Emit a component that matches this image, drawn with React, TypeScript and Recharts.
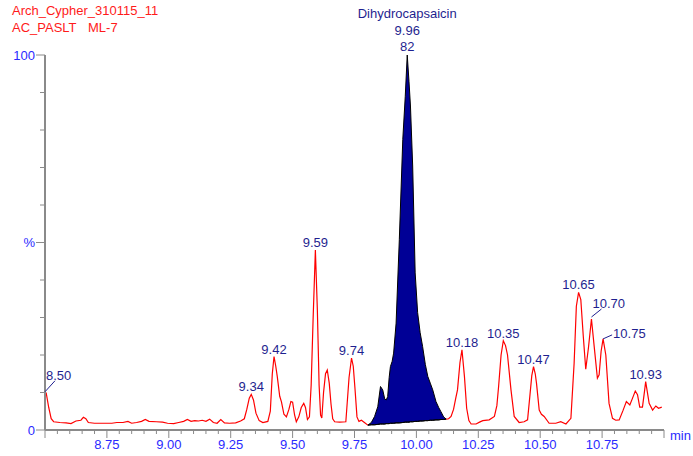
import React from 'react'
import { ComposedChart, Line, Area, XAxis, YAxis, ReferenceDot } from 'recharts'

// retention time (min) and relative intensity (%)
const retentionTimes = [
  8.5, 8.505, 8.515, 8.525, 8.535, 8.56, 8.585, 8.605, 8.625, 8.645, 8.655, 8.665, 8.675, 8.7,
  8.74, 8.77, 8.79, 8.815, 8.835, 8.85, 8.87, 8.89, 8.905, 8.92, 8.95, 8.975, 8.995, 9.02,
  9.04, 9.06, 9.075, 9.09, 9.105, 9.12, 9.135, 9.15, 9.165, 9.18, 9.195, 9.21, 9.225, 9.245, 9.27, 9.29, 9.305,
  9.315, 9.325, 9.333, 9.342, 9.352, 9.365, 9.38, 9.4,
  9.41, 9.418, 9.425, 9.432, 9.438, 9.448, 9.455, 9.465, 9.475, 9.485, 9.493, 9.5, 9.508, 9.515, 9.525, 9.535, 9.545, 9.552, 9.56, 9.568,
  9.575, 9.583, 9.592, 9.6, 9.607, 9.613, 9.618, 9.625, 9.633, 9.64, 9.648, 9.655, 9.662, 9.67, 9.69, 9.715, 9.728, 9.738, 9.745, 9.752, 9.76, 9.768, 9.778, 9.79,
  9.804, 9.818, 9.831, 9.844, 9.855, 9.864, 9.872, 9.878, 9.884, 9.89, 9.895, 9.902, 9.908, 9.918, 9.931, 9.945, 9.955, 9.963, 9.97, 9.976, 9.985, 9.995, 10.005, 10.015, 10.025, 10.036, 10.046, 10.056, 10.066, 10.079, 10.09, 10.099, 10.11, 10.12,
  10.13, 10.14, 10.15, 10.159, 10.166, 10.176, 10.184, 10.194, 10.203, 10.212, 10.221, 10.241, 10.255,
  10.268, 10.294, 10.315, 10.325, 10.332, 10.342, 10.351, 10.36, 10.368, 10.382, 10.395, 10.415,
  10.435, 10.449, 10.458, 10.466, 10.473, 10.48, 10.485, 10.496, 10.505, 10.516, 10.536, 10.563, 10.583, 10.604, 10.624,
  10.637, 10.646, 10.655, 10.664, 10.674, 10.684, 10.695, 10.707, 10.718, 10.731, 10.738, 10.746, 10.754, 10.765, 10.778, 10.792, 10.805,
  10.819, 10.835, 10.848, 10.862, 10.873, 10.884, 10.893, 10.902, 10.913, 10.922, 10.926, 10.94, 10.954, 10.967, 10.978, 10.991,
]

const intensity = [
  10.2, 9.8, 6.0, 3.0, 2.2, 2.0, 1.9, 1.7, 2.4, 2.6, 3.4, 3.0, 2.0, 1.8,
  1.8, 1.8, 2.0, 2.0, 2.3, 1.8, 2.0, 2.3, 2.8, 2.3, 2.2, 2.1, 1.8, 1.7,
  2.0, 2.3, 2.8, 2.3, 2.5, 2.4, 2.6, 2.3, 2.9, 2.0, 1.8, 2.8, 1.9, 1.8, 1.9, 2.4, 3.0,
  5.5, 8.5, 9.5, 8.0, 4.5, 2.5, 2.0, 2.3,
  5.0, 15.0, 19.6, 17.0, 14.3, 9.0, 7.5, 4.2, 3.5, 5.5, 7.6, 7.4, 4.0, 2.2, 3.5, 6.0, 7.1, 6.0, 2.8, 3.5,
  12.0, 30.0, 48.0, 32.0, 12.0, 4.0, 3.2, 10.0, 15.0, 16.0, 12.5, 7.0, 3.0, 2.2, 2.1, 2.2, 14.0, 19.2, 17.0, 11.0, 3.5, 2.3, 2.6, 2.0,
  1.3, 2.0, 3.6, 6.2, 11.6, 10.7, 8.3, 8.0, 8.9, 14.0, 16.9, 18.3, 20.5, 28.5, 50.8, 77.5, 89.0, 100, 93.0, 86.4, 70.4, 41.9, 31.3, 26.0, 22.3, 17.5, 14.3, 12.5, 10.7, 7.6, 6.0, 4.9, 3.5, 2.9,
  3.0, 3.6, 5.5, 8.5, 10.7, 18.0, 21.4, 14.3, 5.8, 2.5, 1.6, 1.6, 2.1,
  2.5, 2.7, 3.6, 6.5, 11.6, 20.0, 23.8, 22.5, 20.0, 10.7, 3.6, 2.0,
  2.2, 2.7, 8.9, 14.5, 16.9, 15.0, 12.5, 5.3, 4.2, 3.6, 1.8, 1.8, 2.2, 1.6, 3.1,
  17.8, 33.0, 36.7, 34.8, 25.0, 16.2, 22.0, 29.6, 22.3, 13.8, 14.7, 21.0, 24.3, 20.0, 7.1, 3.1, 2.6,
  2.7, 5.3, 7.6, 6.7, 8.5, 10.4, 9.4, 6.1, 6.1, 10.7, 12.9, 7.1, 5.3, 6.4, 5.8, 6.1,
]

// integrated peak: drop line baseline under Dihydrocapsaicin, starting at 9.804
const integrationStart = 9.804
const integrationBaseline = [
  1.3, 1.4, 1.4, 1.5, 1.6, 1.6, 1.6, 1.7, 1.7, 1.7, 1.8, 1.8, 1.8, 1.9, 1.9, 2.0, 2.1,
  2.1, 2.1, 2.2, 2.2, 2.3, 2.3, 2.4, 2.4, 2.5, 2.5, 2.6, 2.6, 2.7, 2.7, 2.8, 2.8, 2.9,
]

const peakTimes = [8.5, 9.333, 9.425, 9.592, 9.738, 9.963, 10.184, 10.351, 10.473, 10.655, 10.707, 10.754, 10.926]
const peakTexts = ['8.50', '9.34', '9.42', '9.59', '9.74', '9.96', '10.18', '10.35', '10.47', '10.65', '10.70', '10.75', '10.93']
const mainPeakName = 'Dihydrocapsaicin'
const mainPeakScan = '82'

const xLabelTicks = [8.75, 9, 9.25, 9.5, 9.75, 10, 10.25, 10.5, 10.75]
const yTicks = [0, 10, 20, 30, 40, 50, 60, 70, 80, 90, 100]
const yTickLabels: Record<number, string> = { 0: '0', 50: '%', 100: '100' }

const titleLines = ['Arch_Cypher_310115_11', 'AC_PASLT', 'ML-7']

const FONT = '"Liberation Sans", Arial, sans-serif'
const AXIS_GREY = '#8a8a8a'
const TICK_BLUE = '#2a2aff'
const LABEL_NAVY = '#1f1f8f'

const xTicks = Array.from({ length: 51 }, (_, i) => Math.round((8.5 + i * 0.05) * 100) / 100)

function XTick({ x, y, payload }: any) {
  const v = payload.value as number
  const major = Math.abs(v * 4 - Math.round(v * 4)) < 1e-6
  const labeled = xLabelTicks.some((t) => Math.abs(t - v) < 1e-6)
  return (
    <g>
      <line x1={x} y1={y} x2={x} y2={y + (major ? 8 : 4)} stroke={AXIS_GREY} strokeWidth={1} />
      {labeled && (
        <text x={x} y={y + 19} textAnchor="middle" fontSize={13} fill={TICK_BLUE} fontFamily={FONT}>
          {v.toFixed(2)}
        </text>
      )}
    </g>
  )
}

function YTick({ x, y, payload }: any) {
  const v = payload.value as number
  const text = yTickLabels[v]
  return (
    <g>
      <line x1={x - (text ? 9 : 5)} y1={y} x2={x} y2={y} stroke={AXIS_GREY} strokeWidth={1} />
      {text && (
        <text x={x - 10} y={y + 4.5} textAnchor="end" fontSize={13} fill={TICK_BLUE} fontFamily={FONT}>
          {text}
        </text>
      )}
    </g>
  )
}

function PeakTag({ cx, cy, text }: any) {
  const common = { fontSize: 13, fill: LABEL_NAVY, fontFamily: FONT }
  if (text === '9.96') {
    return (
      <g>
        <text x={cx} y={cy - 37} textAnchor="middle" {...common}>{mainPeakName}</text>
        <text x={cx} y={cy - 20} textAnchor="middle" {...common}>{text}</text>
        <text x={cx} y={cy - 4} textAnchor="middle" {...common}>{mainPeakScan}</text>
      </g>
    )
  }
  if (text === '8.50') {
    return (
      <g>
        <line x1={cx} y1={cy} x2={cx + 10} y2={cy - 11} stroke={LABEL_NAVY} />
        <text x={cx + 1} y={cy - 12} {...common}>{text}</text>
      </g>
    )
  }
  if (text === '10.70') {
    return (
      <g>
        <line x1={cx} y1={cy - 2} x2={cx + 10} y2={cy - 10} stroke={LABEL_NAVY} />
        <text x={cx + 1} y={cy - 11} {...common}>{text}</text>
      </g>
    )
  }
  if (text === '10.75') {
    return (
      <g>
        <line x1={cx} y1={cy} x2={cx + 9} y2={cy - 4} stroke={LABEL_NAVY} />
        <text x={cx + 10} y={cy - 1} {...common}>{text}</text>
      </g>
    )
  }
  return (
    <text x={cx} y={cy - 3} textAnchor="middle" {...common}>{text}</text>
  )
}

export default function App() {
  const rows: any[] = retentionTimes.map((t, i) => ({ t, v: intensity[i], trace: intensity[i] }))
  const s = retentionTimes.indexOf(integrationStart)
  const last = integrationBaseline.length - 1
  integrationBaseline.forEach((b, k) => {
    const r = rows[s + k]
    r.base = b
    r.band = [b, r.v]
    // the red trace is hidden under the filled peak
    if (k > 0 && k < last) r.trace = undefined
  })

  return (
    <div style={{ position: 'absolute', left: 0, top: 0, width: 693, height: 456, background: '#fff' }}>
      <ComposedChart width={693} height={456} data={rows} margin={{ top: 55, right: 29, bottom: 0, left: 0 }}>
        <XAxis
          dataKey="t"
          type="number"
          domain={[8.5, 11]}
          ticks={xTicks}
          interval={0}
          height={26}
          tickSize={0}
          tickMargin={0}
          tick={<XTick />}
          axisLine={{ stroke: AXIS_GREY, strokeWidth: 2 }}
        />
        <YAxis
          type="number"
          domain={[0, 100]}
          ticks={yTicks}
          interval={0}
          width={45}
          tickSize={0}
          tickMargin={0}
          tick={<YTick />}
          axisLine={{ stroke: AXIS_GREY, strokeWidth: 2 }}
        />
        <Area
          type="linear"
          dataKey="band"
          stroke="#000000"
          strokeWidth={1}
          fill="#000096"
          fillOpacity={1}
          isAnimationActive={false}
        />
        <Line
          type="linear"
          dataKey="trace"
          stroke="#ff0000"
          strokeWidth={1.2}
          dot={false}
          isAnimationActive={false}
        />
        <Line
          type="linear"
          dataKey="base"
          stroke="#000000"
          strokeWidth={1}
          dot={false}
          isAnimationActive={false}
        />
        {peakTimes.map((t, i) => (
          <ReferenceDot
            key={t}
            x={t}
            y={intensity[retentionTimes.indexOf(t)]}
            r={0}
            shape={(p: any) => <PeakTag cx={p.cx} cy={p.cy} text={peakTexts[i]} />}
          />
        ))}
      </ComposedChart>
      <svg width={693} height={456} style={{ position: 'absolute', left: 0, top: 0, pointerEvents: 'none' }}>
        <text x={12} y={15} fontSize={13} fill="#ff1a1a" fontFamily={FONT}>{titleLines[0]}</text>
        <text x={12} y={32} fontSize={13} fill="#ff1a1a" fontFamily={FONT}>{titleLines[1]}</text>
        <text x={88} y={32} fontSize={13} fill="#ff1a1a" fontFamily={FONT}>{titleLines[2]}</text>
        <text x={670} y={440} fontSize={13} fill={TICK_BLUE} fontFamily={FONT}>min</text>
      </svg>
    </div>
  )
}
